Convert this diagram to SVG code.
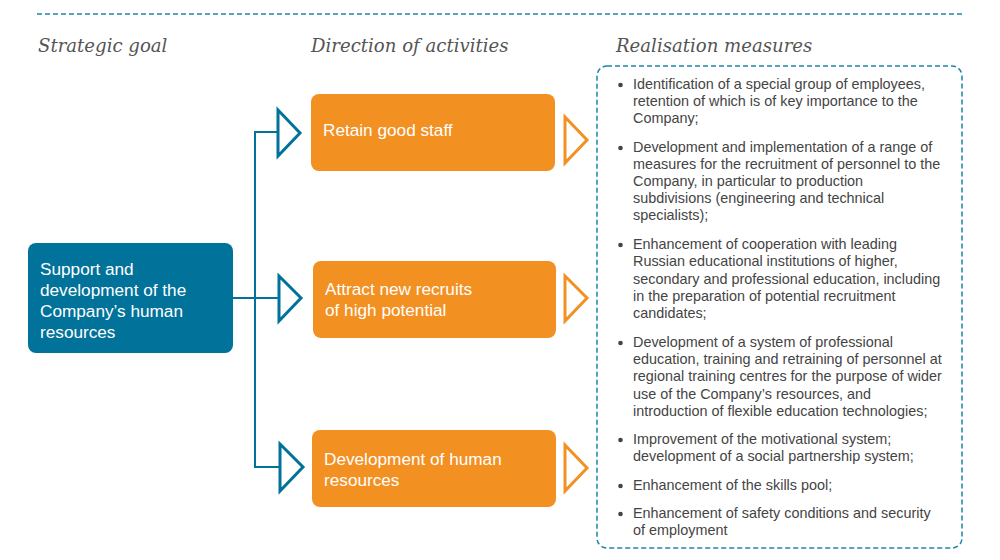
<svg xmlns="http://www.w3.org/2000/svg" width="1000" height="560" viewBox="0 0 1000 560">
<style>
.hdr{font-family:"DejaVu Serif","Liberation Serif",serif;font-style:italic;font-size:18.1px;fill:#555}
.wt{font-family:"Liberation Sans",Arial,sans-serif;font-size:17.2px;fill:#fff}
.bl{font-family:"Liberation Sans",Arial,sans-serif;font-size:14.4px;fill:#444}
.orange{fill:#f39022}
.blue{fill:#01729a}
.tarr{fill:none;stroke:#01729a;stroke-width:3}
.oarr{fill:none;stroke:#f39022;stroke-width:3}
.conn{fill:none;stroke:#01729a;stroke-width:2}
.dash{fill:none;stroke:#1a86aa;stroke-width:1.5;stroke-dasharray:5,3}
</style>
<rect width="1000" height="560" fill="#fff"/>
<line class="dash" x1="37" y1="14" x2="962" y2="14"/>
<text class="hdr" x="38" y="52">Strategic goal</text>
<text class="hdr" x="311" y="52">Direction of activities</text>
<text class="hdr" x="616" y="52">Realisation measures</text>

<g id="connectors">
<polyline class="conn" points="233,298 278,298"/>
<polyline class="conn" points="278,132 255,132 255,467 279,467"/>
<polygon class="tarr" points="278,110 300,133 278,156"/>
<polygon class="tarr" points="279,276 301,298 279,321"/>
<polygon class="tarr" points="280,444 303,467 280,491"/>
<polygon class="oarr" points="565,117 587,140 565,163"/>
<polygon class="oarr" points="565,276 587,298 565,321"/>
<polygon class="oarr" points="565,445 587,468 565,491"/>
</g>

<g id="goal">
<rect class="blue" x="28" y="243" width="205" height="110" rx="8"/>
<text class="wt" x="40" y="275">Support and</text>
<text class="wt" x="40" y="296">development of the</text>
<text class="wt" x="40" y="317">Company’s human</text>
<text class="wt" x="40" y="338">resources</text>
</g>

<g id="retain">
<rect class="orange" x="311" y="94" width="244" height="77" rx="8"/>
<text class="wt" x="323" y="136">Retain good staff</text>
</g>

<g id="attract">
<rect class="orange" x="313" y="261" width="243" height="77" rx="8"/>
<text class="wt" x="325" y="295">Attract new recruits</text>
<text class="wt" x="325" y="316">of high potential</text>
</g>

<g id="develop">
<rect class="orange" x="312" y="430" width="244" height="77" rx="8"/>
<text class="wt" x="324" y="465">Development of human</text>
<text class="wt" x="324" y="486">resources</text>
</g>

<g id="measures">
<rect class="dash" x="597" y="66" width="365" height="482" rx="10"/>
<g fill="#444">
<circle cx="620.5" cy="85" r="2.3"/>
<circle cx="620.5" cy="148" r="2.3"/>
<circle cx="620.5" cy="245" r="2.3"/>
<circle cx="620.5" cy="343" r="2.3"/>
<circle cx="620.5" cy="440" r="2.3"/>
<circle cx="620.5" cy="486" r="2.3"/>
<circle cx="620.5" cy="514" r="2.3"/>
</g>
<text class="bl" x="633" y="89">Identification of a special group of employees,</text>
<text class="bl" x="633" y="106">retention of which is of key importance to the</text>
<text class="bl" x="633" y="123">Company;</text>
<text class="bl" x="633" y="152">Development and implementation of a range of</text>
<text class="bl" x="633" y="169">measures for the recruitment of personnel to the</text>
<text class="bl" x="633" y="186">Company, in particular to production</text>
<text class="bl" x="633" y="203">subdivisions (engineering and technical</text>
<text class="bl" x="633" y="220">specialists);</text>
<text class="bl" x="633" y="249">Enhancement of cooperation with leading</text>
<text class="bl" x="633" y="266">Russian educational institutions of higher,</text>
<text class="bl" x="633" y="284">secondary and professional education, including</text>
<text class="bl" x="633" y="301">in the preparation of potential recruitment</text>
<text class="bl" x="633" y="318">candidates;</text>
<text class="bl" x="633" y="347">Development of a system of professional</text>
<text class="bl" x="633" y="364">education, training and retraining of personnel at</text>
<text class="bl" x="633" y="381">regional training centres for the purpose of wider</text>
<text class="bl" x="633" y="399">use of the Company’s resources, and</text>
<text class="bl" x="633" y="416">introduction of flexible education technologies;</text>
<text class="bl" x="633" y="444">Improvement of the motivational system;</text>
<text class="bl" x="633" y="461">development of a social partnership system;</text>
<text class="bl" x="633" y="490">Enhancement of the skills pool;</text>
<text class="bl" x="633" y="518">Enhancement of safety conditions and security</text>
<text class="bl" x="633" y="535">of employment</text>
</g>
</svg>
